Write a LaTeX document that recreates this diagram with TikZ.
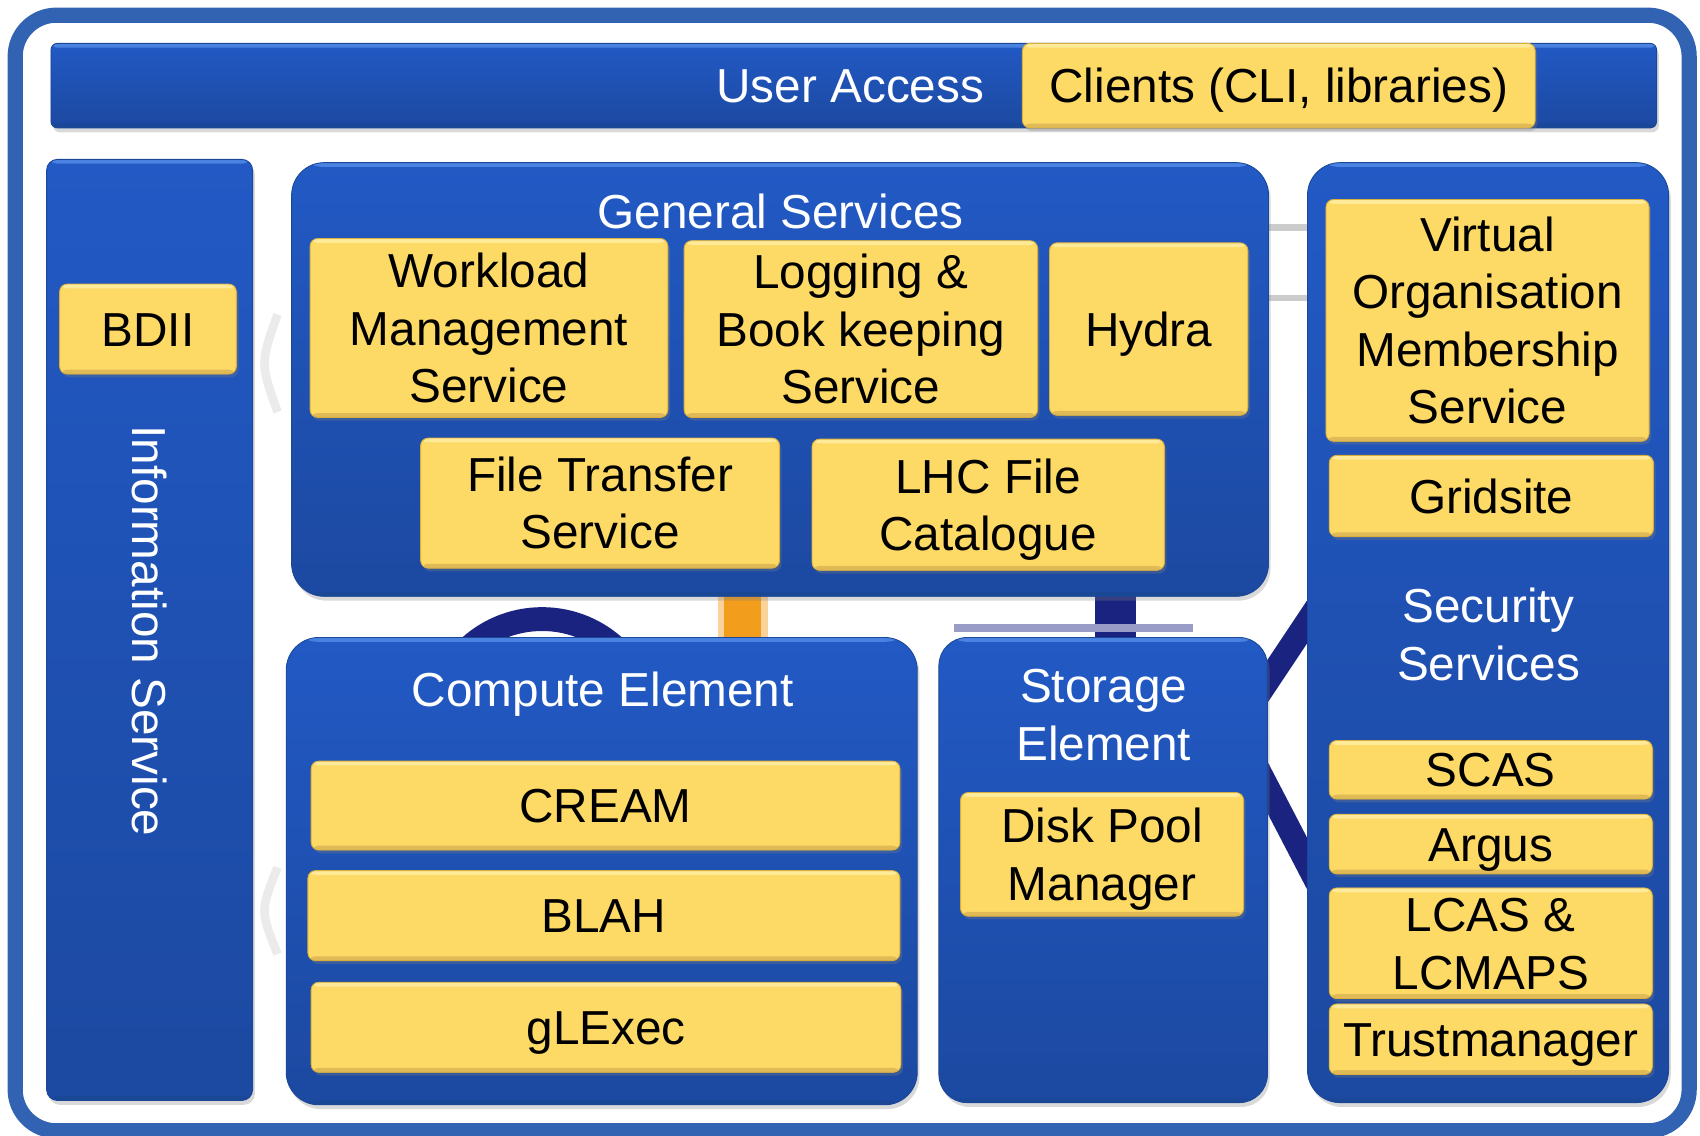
\documentclass[tikz,border=0pt]{standalone}
\usepackage{fontspec}
\setmainfont{Liberation Sans}
\usetikzlibrary{shadows}
\definecolor{bmain}{HTML}{2259C4}
\definecolor{bdark}{HTML}{1A4796}
\definecolor{blight}{HTML}{4A82E2}
\definecolor{ymain}{HTML}{FDD965}
\definecolor{ydark}{HTML}{D9AE3A}
\definecolor{ylight}{HTML}{FFEA9A}
\definecolor{framec}{HTML}{3262B2}
\definecolor{navyc}{HTML}{1A2380}
\definecolor{orangec}{HTML}{F29E1C}
\tikzset{
  lbl/.style={font=\fontsize{44}{53}\selectfont, text height=31.5pt, text depth=0pt, inner sep=0pt, align=center},
  twolines/.style={text height=84.5pt},
  threelines/.style={text height=137.5pt},
  fourlines/.style={text height=190.5pt},
  bevel/.style 2 args={path picture={
     \fill[#1] ([yshift=-4pt]path picture bounding box.north west) rectangle (path picture bounding box.north east);
     \fill[#2] ([yshift=4pt]path picture bounding box.south west) rectangle (path picture bounding box.south east);}},
  bluebox/.style={lbl, text=white, draw=bdark, line width=0.8pt, top color=bmain, bottom color=bmain!82!black,
     bevel={blight}{bdark}, drop shadow={shadow xshift=2pt, shadow yshift=-4pt, opacity=0.3}},
  yellowbox/.style={lbl, text=black, draw=ydark, line width=0.8pt, fill=ymain, rounded corners=7pt,
     bevel={ylight}{ydark!85}, drop shadow={shadow xshift=2pt, shadow yshift=-3pt, opacity=0.3}},
  title/.style={lbl, text=white},
}
\begin{document}
\begin{tikzpicture}[x=1pt, y=-1pt]
\useasboundingbox (0,0) rectangle (1568,1047);
% faint background remnants
\fill[orangec!45] (662,545) rectangle (708,592);
\fill[orangec] (668,545) rectangle (702,592);
\draw[navyc, line width=22pt] (500,671) circle (100);
\draw[navyc, line width=22pt] (1228,540) -- (1158,645);
\draw[navyc, line width=22pt] (1158,705) -- (1222,828);
\fill[navyc] (1010,545) rectangle (1048,592);
\draw[navyc!45, line width=7pt] (880,579) -- (1100,579);
\draw[black!20, line width=6pt] (1165,210) -- (1212,210);
\draw[black!20, line width=6pt] (1165,275) -- (1212,275);
\draw[black!8, line width=8pt] (256,290) .. controls (240,335) .. (256,380);
\draw[black!8, line width=8pt] (256,800) .. controls (240,840) .. (256,880);
% outer frame
\draw[framec, line width=14pt, rounded corners=38pt] (14,14) rectangle (1558,1043);
% user access bar
\node[bluebox, rounded corners=6pt, minimum width=1481pt, minimum height=78pt] (ua) at (787.5,79) {};
\node[title, anchor=east] (ualbl) at (908,79) {User Access};
\node[yellowbox, minimum width=473pt, minimum height=78pt] (cli) at (1179.5,79) {Clients (CLI, libraries)};
% information service
\node[bluebox, rounded corners=10pt, minimum width=190pt, minimum height=868pt] (info) at (138,581) {};
\node[title, rotate=-90] (infolbl) at (138,582) {Information Service};
\node[yellowbox, minimum width=163pt, minimum height=83pt] (bdii) at (136.5,303.5) {BDII};
% general services
\node[bluebox, rounded corners=30pt, minimum width=901pt, minimum height=400pt] (gen) at (719.5,350) {};
\node[title] (genlbl) at (720,195) {General Services};
\node[yellowbox, threelines, minimum width=330pt, minimum height=165pt] (wms) at (451,302.5) {Workload\\Management\\Service};
\node[yellowbox, threelines, minimum width=326pt, minimum height=163pt] (lb) at (794,303.5) {Logging \&\\Book keeping\\Service};
\node[yellowbox, minimum width=183pt, minimum height=159pt] (hydra) at (1059.5,303.5) {Hydra};
\node[yellowbox, twolines, minimum width=331pt, minimum height=120pt] (fts) at (553.5,464) {File Transfer\\Service};
\node[yellowbox, twolines, minimum width=325pt, minimum height=121pt] (lfc) at (911.5,465.5) {LHC File\\Catalogue};
% compute element
\node[bluebox, rounded corners=30pt, minimum width=582pt, minimum height=431pt] (ce) at (555,803.5) {};
\node[title] (celbl) at (556,636) {Compute Element};
\node[yellowbox, minimum width=543pt, minimum height=82pt] (cream) at (558.5,743) {CREAM};
\node[yellowbox, minimum width=546pt, minimum height=83pt] (blah) at (557,844.5) {BLAH};
\node[yellowbox, minimum width=544pt, minimum height=83pt] (glexec) at (559,947.5) {gLExec};
% storage element
\node[bluebox, rounded corners=26pt, minimum width=303pt, minimum height=429pt] (se) at (1017.5,802.5) {};
\node[title, twolines] (selbl) at (1018,659) {Storage\\Element};
\node[yellowbox, twolines, minimum width=261pt, minimum height=114pt] (dpm) at (1016.5,788) {Disk Pool\\Manager};
% security services
\node[bluebox, rounded corners=30pt, minimum width=333pt, minimum height=867pt] (sec) at (1372.5,583.5) {};
\node[title, twolines] (seclbl) at (1373,585) {Security\\Services};
\node[yellowbox, fourlines, minimum width=298pt, minimum height=223pt] (voms) at (1372,295.5) {Virtual\\Organisation\\Membership\\Service};
\node[yellowbox, minimum width=299pt, minimum height=75pt] (gridsite) at (1375.5,457.5) {Gridsite};
\node[yellowbox, minimum width=298pt, minimum height=54pt] (scas) at (1375,710) {SCAS};
\node[yellowbox, minimum width=298pt, minimum height=55pt] (argus) at (1375,778.5) {Argus};
\node[yellowbox, twolines, minimum width=298pt, minimum height=102pt] (lcas) at (1375,870) {LCAS \&\\LCMAPS};
\node[yellowbox, minimum width=298pt, minimum height=65pt] (trust) at (1375,958.5) {Trustmanager};
\end{tikzpicture}
\end{document}
